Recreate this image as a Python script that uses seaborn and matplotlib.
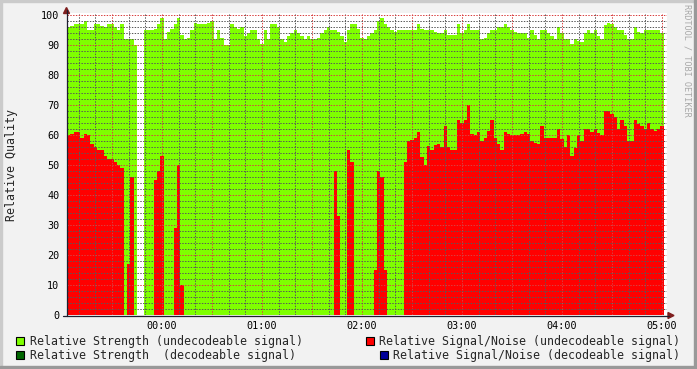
import numpy as np
import matplotlib
matplotlib.use("Agg")
import matplotlib.pyplot as plt
import seaborn as sns
from matplotlib.patches import Rectangle, Polygon
from matplotlib.lines import Line2D
from matplotlib.ticker import MultipleLocator, FuncFormatter

nan = float("nan")

# ---- data (RRD samples, 2-minute step, first sample at 23:03) ----
START_MIN = -57          # minutes relative to 00:00
STEP_MIN = 2

strength_undecodeable = [
    96, 96.5, 97, 97, 97, 98, 95, 95, 97, 97, 96.5, 96, 97, 97, 96, 95, 97, 92, 92, 92,
    90, nan, nan, 95, 95, 95, 95.5, 97, 99,
    92, 94.5, 95.4, 97, 99, 93.5, 92, 92.5, 95, 97.5, 97, 97, 97, 97.5, 98, 92, 95, 92.5, 90, 90,
    97, 96, 95.5, 96, 93, 94, 95, 95, 92, 90.5,
    95, 92, 97, 97, 96, 92, 91, 93, 94, 95, 94, 93, 92, 93, 92, 92, 92.5, 94, 95, 96,
    95, 95, 94.5, 93, 91, 95, 97, 97, 95.5, 92.5,
    92, 93, 94, 95, 98, 99, 97, 96, 95, 94.3, 95, 95, 95, 95, 95, 95, 97, 95.5, 95, 95,
    95, 94.5, 94, 94, 95, 93.2, 93.2, 93.2, 97, 94,
    95, 97, 95, 95, 95, 92, 92.5, 94, 95, 95, 96, 96, 97, 96, 95, 94.5, 94, 94, 94, 92.5,
    95, 93.2, 92, 95, 95, 94, 93, 92, 96, 94,
    92, 92, 90.3, 92, 91.4, 91, 94, 95, 94, 95, 93, 92, 96.8, 97.5, 97, 96, 95, 95, 93.2, 92,
    92, 96, 94.3, 94, 95, 95, 95, 95, 95, 94,
]

snr_undecodeable = [
    60, 60.5, 61, 61, 59, 60.5, 60, 57, 56, 55, 55, 53, 52, 52, 51, 50, 49, 0, 17, 46,
    0, nan, nan, 0, 0, 0, 45, 48, 53,
    0, 0, 0, 29, 50, 10, 0, 0, 0, 0, 0, 0, 0, 0, 0, 0, 0, 0, 0, 0,
    0, 0, 0, 0, 0, 0, 0, 0, 0, 0,
    0, 0, 0, 0, 0, 0, 0, 0, 0, 0, 0, 0, 0, 0, 0, 0, 0, 0, 0, 0,
    0, 48, 33, 0, 0, 55, 51, 0, 0, 0,
    0, 0, 0, 15, 48, 46, 15, 0, 0, 0, 0, 0, 51, 58, 58.5, 59, 61, 52.7, 50, 56.5,
    55, 56.7, 57, 56, 63, 56, 55, 55, 65, 64,
    65, 70, 60.5, 60, 61, 58, 59, 61.5, 65, 59, 57, 55, 61, 60.3, 60, 60, 60, 60.3, 61, 60.5,
    58, 57.4, 57, 63, 59, 59, 59, 59, 62, 58.7,
    56, 60, 53, 55.7, 60, 58, 62, 62, 61, 62, 60.8, 60, 68, 68, 67, 66, 62, 65, 63, 58,
    58, 65, 63.7, 63, 62, 64, 62, 61.2, 62, 63,
]

legend_labels = [
    "Relative Strength (undecodeable signal)",
    "Relative Signal/Noise (undecodeable signal)",
    "Relative Strength  (decodeable signal)",
    "Relative Signal/Noise (decodeable signal)",
]
y_label = "Relative Quality"
watermark = "RRDTOOL / TOBI OETIKER"

# ---- colours ----
BACK = "#F2F2F2"
GREEN = "#7FFF00"
RED = "#FF0000"
DKGREEN = "#006600"
BLUE = "#000099"
ARROW = "#7F1F1F"
AXIS = "#1F1F2F"

sns.set_theme(style="white", rc={"axes.facecolor": "white", "figure.facecolor": BACK})
plt.rcParams["font.family"] = ["DejaVu Sans Mono", "DejaVu Sans"]

W, H = 697, 369
fig = plt.figure(figsize=(W / 100, H / 100), dpi=100, facecolor=BACK)


def fx(x):
    return x / W


def fy(y):
    return 1 - y / H


# plot area: x 67..667 px, y 13.3..315 px
ax = fig.add_axes([fx(67), fy(315), 600 / W, (315 - 13.3) / H])
ax.set_facecolor("white")

n = len(strength_undecodeable)
times = START_MIN + STEP_MIN * np.arange(n)
g = np.array(strength_undecodeable, dtype=float)
r = np.array(snr_undecodeable, dtype=float)

ax.bar(times, g, width=STEP_MIN, align="edge", color=GREEN, linewidth=0, antialiased=False, zorder=1)
ax.bar(times, r, width=STEP_MIN, align="edge", color=RED, linewidth=0, antialiased=False, zorder=1.1)

ax.set_xlim(START_MIN, START_MIN + 360)
ax.set_ylim(0, 100.6)

for s in ax.spines.values():
    s.set_visible(False)

ax.xaxis.set_major_locator(MultipleLocator(30))
ax.xaxis.set_minor_locator(MultipleLocator(10))
ax.yaxis.set_major_locator(MultipleLocator(10))
ax.yaxis.set_minor_locator(MultipleLocator(2))


def fmt_time(m, pos):
    m = int(round(m))
    if m % 60 != 0:
        return ""
    return f"{(m // 60) % 24:02d}:00"


ax.xaxis.set_major_formatter(FuncFormatter(fmt_time))
ax.yaxis.set_major_formatter(FuncFormatter(lambda v, p: f"{int(round(v))}" if v <= 100 else ""))
ax.set_yticks([v for v in range(0, 101, 10)])

ax.set_axisbelow(False)
ax.grid(which="minor", color=(0.35, 0.35, 0.35, 0.22), linestyle=(0, (1.4, 1.4)), linewidth=0.72)
ax.grid(which="major", color=(0.85, 0.25, 0.25, 0.32), linestyle=(0, (1.4, 1.4)), linewidth=0.72)

ax.tick_params(axis="both", which="major", direction="out", length=2.2, width=0.7,
               color=(0.87, 0.31, 0.31), labelsize=7.3, labelcolor="black")
ax.tick_params(axis="both", which="minor", direction="out", length=2.2, width=0.7,
               color=(0.6, 0.6, 0.6))
ax.tick_params(axis="y", which="major", pad=3.2)
ax.tick_params(axis="x", which="major", pad=2.0)

# axes lines + arrows (RRD style)
fig.add_artist(Line2D([fx(66.5), fx(66.5)], [fy(315.5), fy(10)], color=AXIS, lw=0.9))
fig.add_artist(Line2D([fx(63), fx(669)], [fy(315.5), fy(315.5)], color=AXIS, lw=0.9))
fig.add_artist(Polygon([(fx(63.5), fy(13.5)), (fx(69.5), fy(13.5)), (fx(66.5), fy(7.5))],
                       closed=True, color=ARROW, transform=fig.transFigure))
fig.add_artist(Polygon([(fx(668), fy(312.5)), (fx(668), fy(318.5)), (fx(674), fy(315.5))],
                       closed=True, color=ARROW, transform=fig.transFigure))

# y label and watermark
fig.text(fx(12), fy(165), y_label, rotation=90, ha="center", va="center", fontsize=8.4)
fig.text(fx(687.5), fy(4), watermark, rotation=-90, ha="center", va="top", fontsize=6.1,
         color="#A8A8A8")

# legend
def legend_box(x, y, color):
    fig.add_artist(Rectangle((fx(x), fy(y + 8)), 8 / W, 8 / H, facecolor=color,
                             edgecolor="black", linewidth=0.8, transform=fig.transFigure))


legend_box(16, 337, GREEN)
fig.text(fx(30), fy(341.5), legend_labels[0], ha="left", va="center", fontsize=8.4)
legend_box(366, 337, RED)
fig.text(fx(680), fy(341.5), legend_labels[1], ha="right", va="center", fontsize=8.4)
legend_box(16, 351, DKGREEN)
fig.text(fx(30), fy(355.5), legend_labels[2], ha="left", va="center", fontsize=8.4)
legend_box(380, 351, BLUE)
fig.text(fx(680), fy(355.5), legend_labels[3], ha="right", va="center", fontsize=8.4)

# 3D frame
fig.add_artist(Rectangle((0, fy(2)), 1, 2 / H, color="#CBCBCB", transform=fig.transFigure))
fig.add_artist(Rectangle((0, 0), 2 / W, 1, color="#CBCBCB", transform=fig.transFigure))
fig.add_artist(Rectangle((0, 0), 1, 3 / H, color="#999999", transform=fig.transFigure))
fig.add_artist(Rectangle((fx(694), 0), 3 / W, 1, color="#999999", transform=fig.transFigure))

fig.savefig("out.png", dpi=100, facecolor=BACK)
